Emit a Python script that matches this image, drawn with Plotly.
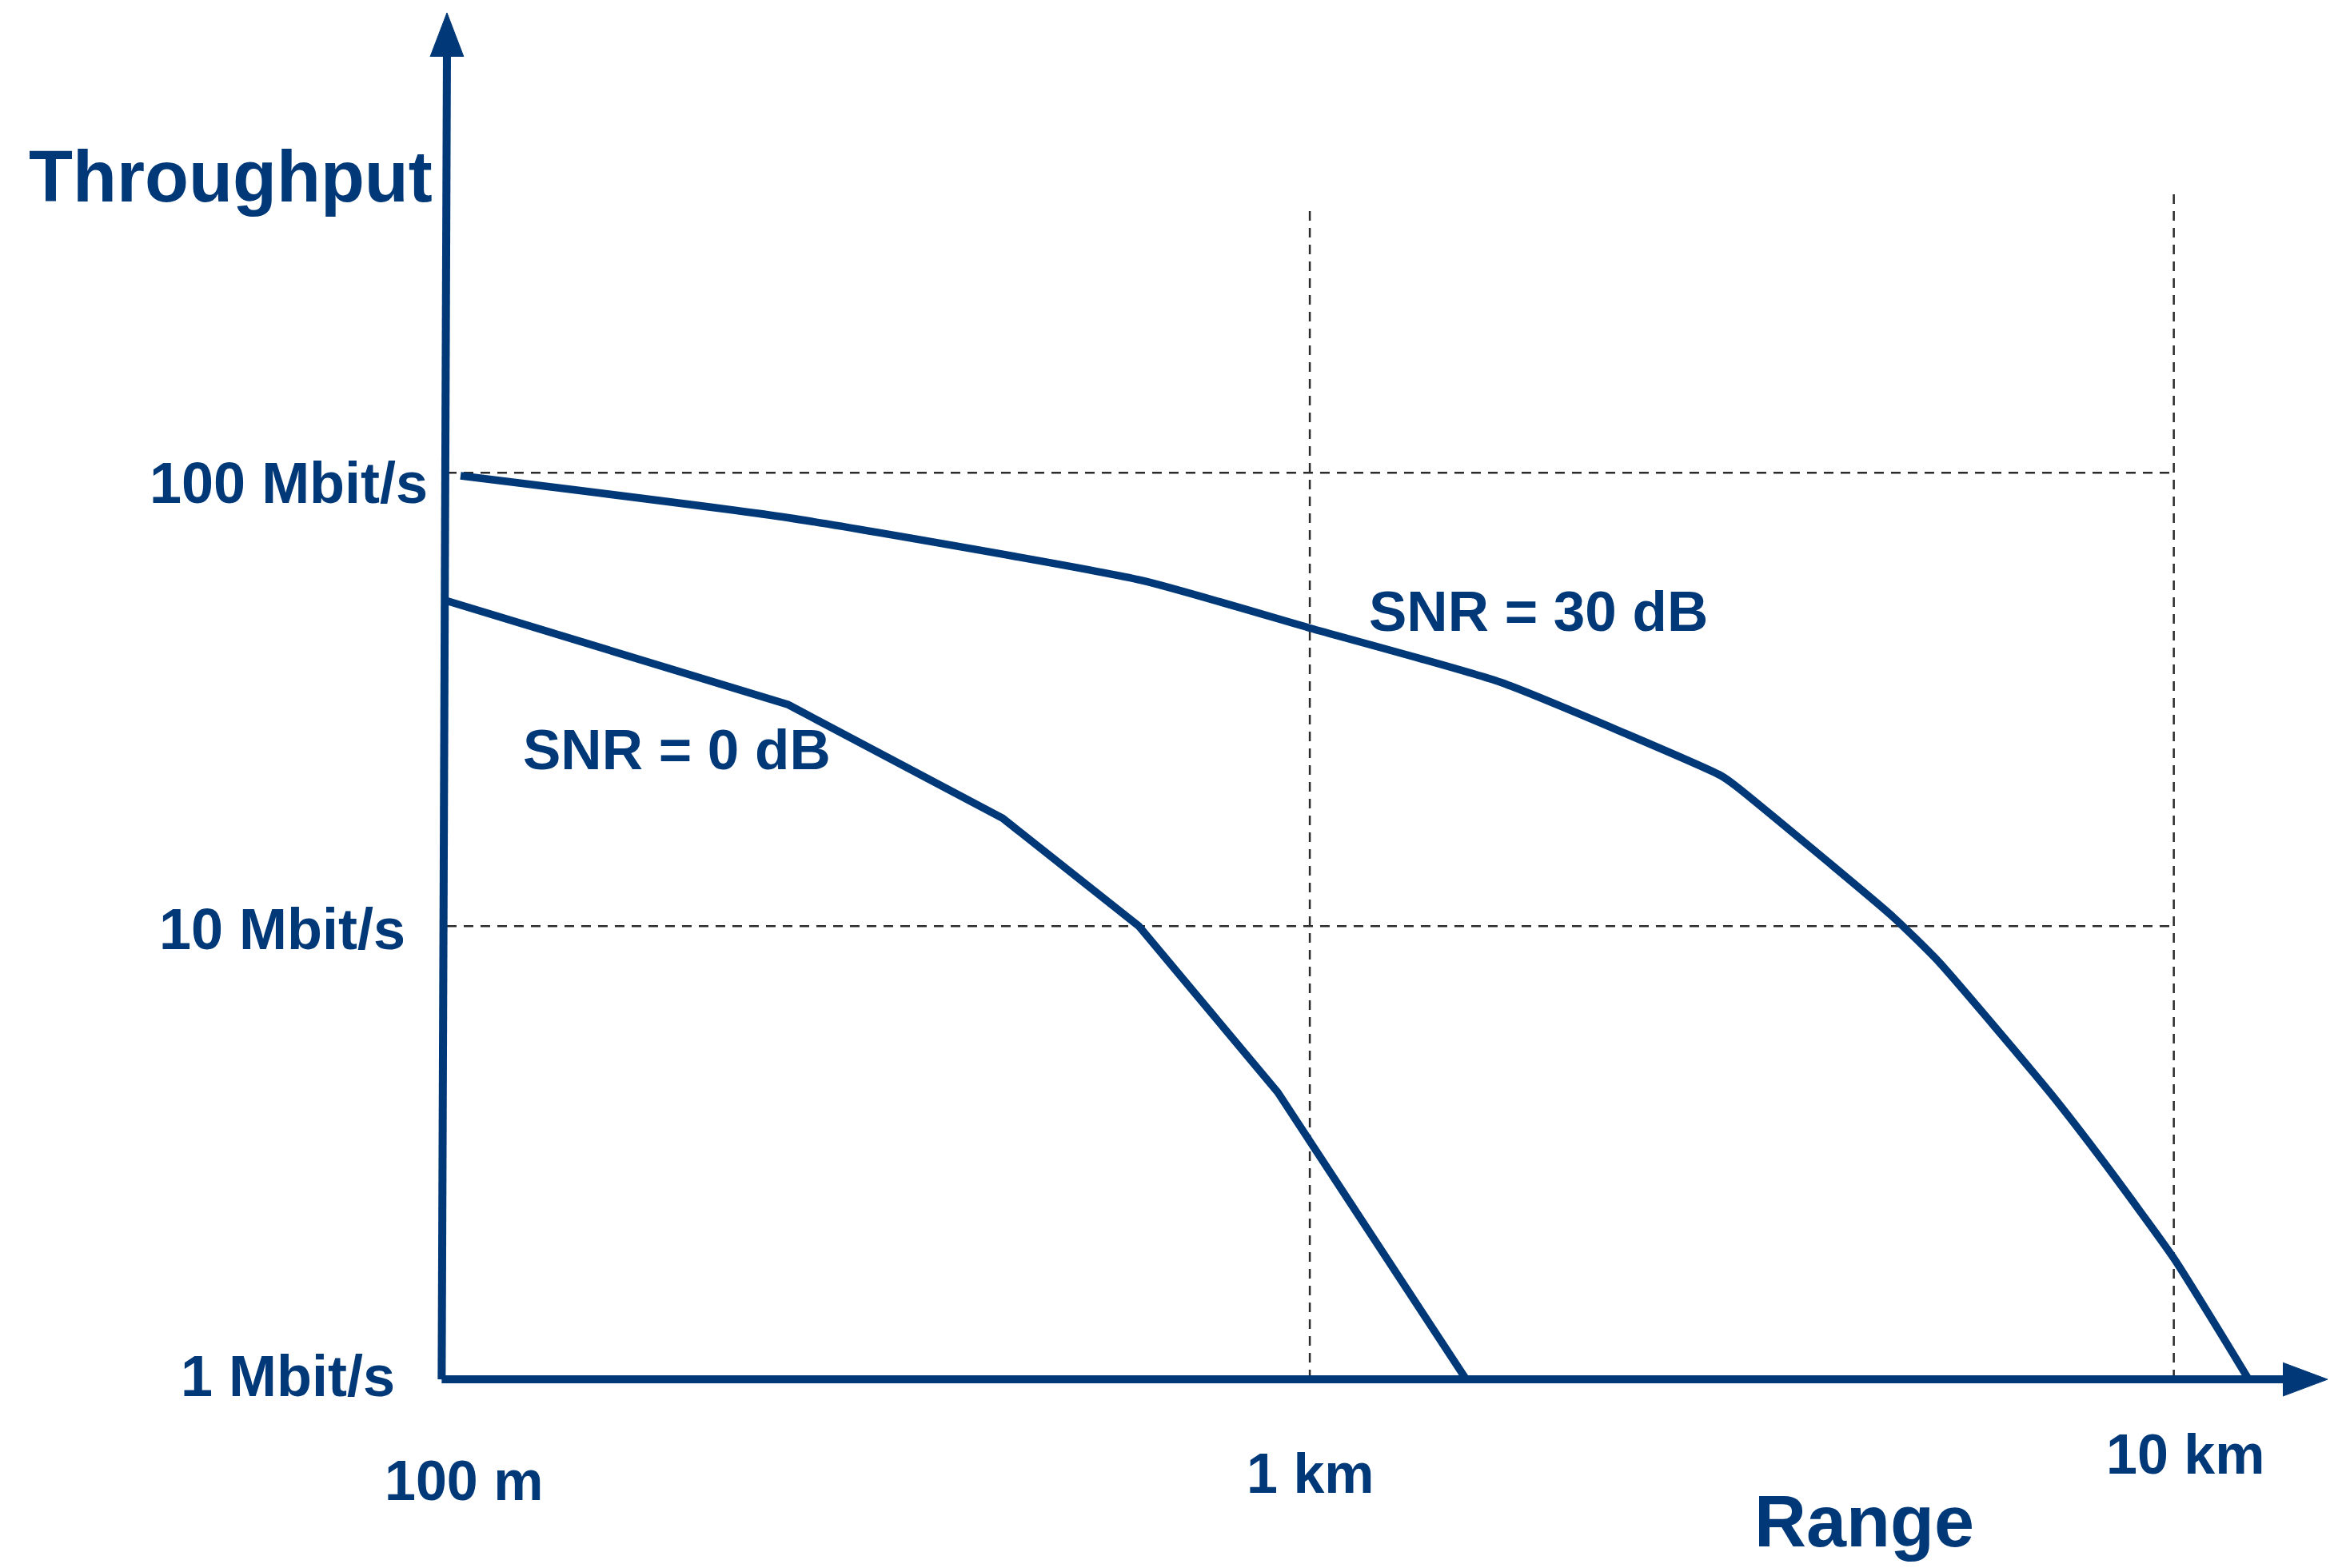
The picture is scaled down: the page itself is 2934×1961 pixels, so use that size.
import numpy as np
import plotly.graph_objects as go

# ---------------- data ----------------
range_snr30_m = [104, 249, 639, 1002, 1663, 2988, 3110, 4726, 5349, 7183, 8325, 10000, 12210]
thr_snr30_mbps = [98.5, 79.6, 57.9, 45.4, 34.5, 21.5, 20.4, 10.5, 8.33, 4.30, 2.99, 1.85, 1.0]

range_snr0_m = [99.6, 249, 441, 634, 918, 1517]
thr_snr0_mbps = [52.4, 30.8, 17.3, 10.0, 4.30, 1.0]

x_tick_vals = [100, 1000, 10000]
x_tick_text = ["100 m", "1 km", "10 km"]
y_tick_vals = [1, 10, 100]
y_tick_text = ["1 Mbit/s", "10 Mbit/s", "100 Mbit/s"]

curve_labels = ["SNR = 30 dB", "SNR = 0 dB"]

# ---------------- styling / geometry ----------------
W, H = 2934, 1961
BLUE = "#003878"
GRID = "#2b2b2b"
FONT = "Liberation Sans, Arial, Helvetica, sans-serif"

X_RANGE = [1.4840, 4.1993]      # log10 metres
Y_RANGE = [-0.4161, 3.0431]     # log10 Mbit/s

AXIS_X_LEFT = 98.9              # where the axes meet (m)
AXIS_X_TOP = 100.3
Y_AXIS_BASE = 10 ** 2.918       # y arrow base
Y_AXIS_TIP = 10 ** 3.0149
X_AXIS_BASE = 10 ** 4.1262
X_AXIS_TIP = 10 ** 4.178
ARROW_HALF_X = 0.0194           # log units
ARROW_HALF_Y = 0.037

GRID_X_END = 10000
V_GRID_TOP = {1000: 387, 10000: 417}

fig = go.Figure()

def line(x, y, color, width, dash=None, shape="linear", smoothing=None):
    ln = dict(color=color, width=width, dash=dash, shape=shape)
    if smoothing is not None:
        ln["smoothing"] = smoothing
    fig.add_trace(go.Scatter(x=x, y=y, mode="lines", line=ln,
                             hoverinfo="skip", showlegend=False))

# dashed guide lines
for yv in y_tick_vals[1:]:
    line([AXIS_X_TOP, GRID_X_END], [yv, yv], GRID, 2.5, "12px,9px")
for xv in x_tick_vals[1:]:
    line([xv, xv], [y_tick_vals[0], V_GRID_TOP[xv]], GRID, 2.5, "12px,9px")

# axes
line([AXIS_X_LEFT, AXIS_X_TOP], [1, Y_AXIS_BASE], BLUE, 10)
line([AXIS_X_LEFT, X_AXIS_BASE], [1, 1], BLUE, 10)

# arrow heads (filled triangles)
lx = np.log10(AXIS_X_TOP)
fig.add_trace(go.Scatter(
    x=[10 ** (lx - ARROW_HALF_X), AXIS_X_TOP, 10 ** (lx + ARROW_HALF_X)],
    y=[Y_AXIS_BASE, Y_AXIS_TIP, Y_AXIS_BASE],
    mode="lines", fill="toself", fillcolor=BLUE, line=dict(color=BLUE, width=1),
    hoverinfo="skip", showlegend=False))
fig.add_trace(go.Scatter(
    x=[X_AXIS_BASE, X_AXIS_TIP, X_AXIS_BASE],
    y=[10 ** (-ARROW_HALF_Y), 1, 10 ** ARROW_HALF_Y],
    mode="lines", fill="toself", fillcolor=BLUE, line=dict(color=BLUE, width=1),
    hoverinfo="skip", showlegend=False))

# curves
line(range_snr30_m, thr_snr30_mbps, BLUE, 9.5, shape="spline", smoothing=0.5)
line(range_snr0_m, thr_snr0_mbps, BLUE, 9.5)

ann = []
def font(size):
    return dict(family=FONT, size=size, color=BLUE, weight="bold")

# y tick labels
y_shifts = {1: 4, 10: -4, 100: -13}
y_right = {1: 496 / W, 10: 509 / W, 100: 537 / W}
for v, t in zip(y_tick_vals, y_tick_text):
    ann.append(dict(text=t, xref="paper", yref="y", x=y_right[v], y=np.log10(v),
                    xanchor="right", yanchor="middle", yshift=y_shifts[v],
                    showarrow=False, font=font(72)))

# x tick labels
x_shifts = {100: (22, -127), 1000: (1, -118), 10000: (14, -94)}
for v, t in zip(x_tick_vals, x_tick_text):
    dx, dy = x_shifts[v]
    ann.append(dict(text=t, xref="x", yref="y", x=np.log10(v), y=0,
                    xanchor="center", yanchor="middle", xshift=dx, yshift=dy,
                    showarrow=False, font=font(70)))

# axis titles
ann.append(dict(text="Throughput", xref="paper", yref="paper",
                x=288 / W, y=1 - 221 / H, xanchor="center", yanchor="middle",
                showarrow=False, font=font(90)))
ann.append(dict(text="Range", xref="paper", yref="paper",
                x=2331 / W, y=1 - 1903 / H, xanchor="center", yanchor="middle",
                showarrow=False, font=font(90)))

# curve labels
ann.append(dict(text=curve_labels[0], xref="paper", yref="paper",
                x=1924 / W, y=1 - 764 / H, xanchor="center", yanchor="middle",
                showarrow=False, font=font(71)))
ann.append(dict(text=curve_labels[1], xref="paper", yref="paper",
                x=846 / W, y=1 - 938 / H, xanchor="center", yanchor="middle",
                showarrow=False, font=font(71)))

fig.update_layout(
    width=W, height=H,
    margin=dict(l=0, r=0, t=0, b=0),
    paper_bgcolor="white", plot_bgcolor="white",
    showlegend=False,
    xaxis=dict(type="log", range=X_RANGE, visible=False, fixedrange=True),
    yaxis=dict(type="log", range=Y_RANGE, visible=False, fixedrange=True),
    annotations=ann,
)

fig.write_html("out.html", config={"displayModeBar": False},
               post_script="document.body.style.margin='0';")
